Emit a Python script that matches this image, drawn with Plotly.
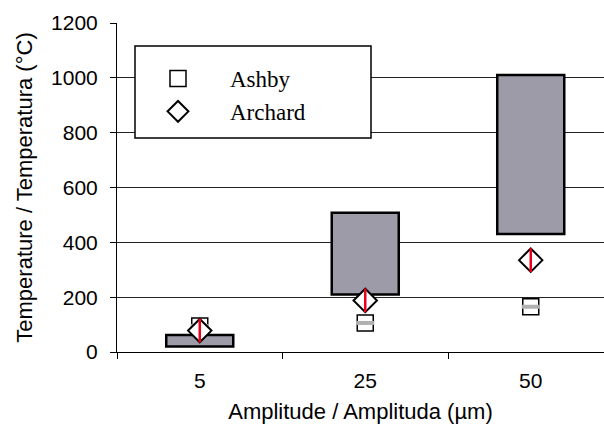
import plotly.graph_objects as go

categories = ["5", "25", "50"]
range_low = [20, 210, 430]
range_high = [62, 508, 1010]
ashby = [95, 106, 165]
archard = [78, 188, 335]

PLOT_L, PLOT_R, PLOT_T, PLOT_B = 117, 604, 23, 352
W, H = 604, 434
CAT_PX = 165.5
x_max = -0.5 + (PLOT_R - PLOT_L) / CAT_PX

def px_x(p):
    return (p - PLOT_L) / (PLOT_R - PLOT_L)

def px_y(p):
    return (PLOT_B - p) / (PLOT_B - PLOT_T)

fig = go.Figure()

fig.add_trace(go.Bar(
    x=categories,
    y=[h - l for h, l in zip(range_high, range_low)],
    base=range_low,
    width=0.405,
    marker=dict(color="#9e9ba9", line=dict(color="black", width=2.5)),
    showlegend=False,
))

fig.add_trace(go.Scatter(
    x=categories, y=ashby, mode="markers", name="Ashby",
    marker=dict(symbol="square", size=16, color="white",
                line=dict(color="black", width=1.5)),
))
fig.add_trace(go.Scatter(
    x=categories, y=ashby, mode="markers", showlegend=False,
    marker=dict(symbol="line-ew", size=13,
                line=dict(color="#b0b0b0", width=4)),
))
fig.add_trace(go.Scatter(
    x=categories, y=archard, mode="markers", name="Archard",
    marker=dict(symbol="diamond", size=18, color="white",
                line=dict(color="black", width=2)),
))
fig.add_trace(go.Scatter(
    x=categories, y=archard, mode="markers", showlegend=False,
    marker=dict(symbol="line-ns", size=17,
                line=dict(color="#e8001c", width=2.5)),
))

fig.add_shape(type="rect", xref="paper", yref="paper",
              x0=px_x(135), x1=px_x(371), y0=px_y(138), y1=px_y(46),
              line=dict(color="black", width=1.5), fillcolor="white",
              layer="above")

fig.update_layout(
    width=W, height=H,
    margin=dict(l=PLOT_L, r=W - PLOT_R, t=PLOT_T, b=H - PLOT_B),
    paper_bgcolor="white", plot_bgcolor="white",
    font=dict(family="Liberation Sans, Arial", size=21, color="black"),
    showlegend=True,
    legend=dict(x=px_x(126), y=px_y(57), xanchor="left", yanchor="top",
                bgcolor="rgba(0,0,0,0)", borderwidth=0,
                font=dict(family="Liberation Serif, Times New Roman", size=23),
                itemwidth=94, tracegroupgap=0),
    xaxis=dict(type="category", range=[-0.5, x_max], tickson="boundaries",
               ticks="outside", ticklen=6, tickcolor="black",
               showline=True, linecolor="black", linewidth=1,
               showgrid=False, zeroline=False,
               tickfont=dict(size=21), ticklabelstandoff=10,
               title=dict(text="Amplitude / Amplituda (µm)", font=dict(size=22),
                          standoff=12)),
    yaxis=dict(range=[0, 1200], dtick=200, ticks="outside", ticklen=6,
               tickcolor="black", showline=True, linecolor="black", linewidth=1,
               showgrid=True, gridcolor="#222222", gridwidth=1,
               zeroline=False, tickfont=dict(size=21), ticklabelstandoff=8,
               title=dict(text="Temperature / Temperatura (°C)", font=dict(size=22),
                          standoff=12)),
)

fig.write_html("out.html")
